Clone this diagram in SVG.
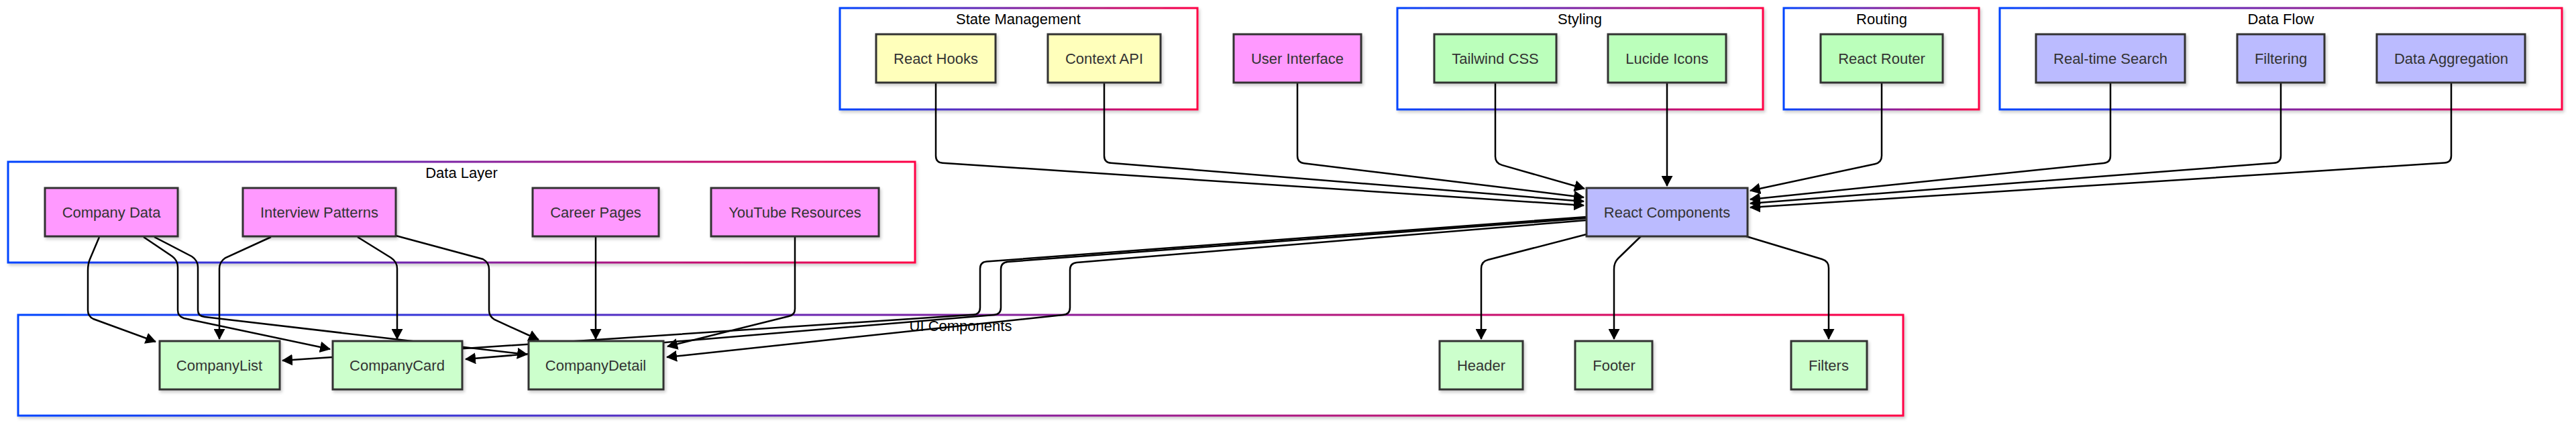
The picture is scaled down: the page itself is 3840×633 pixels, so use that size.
<svg xmlns="http://www.w3.org/2000/svg" width="3840" height="633" viewBox="0 0 3840 633">
<defs>
<linearGradient id="cg" x1="0" y1="0" x2="1" y2="0"><stop offset="0" stop-color="#0044ff"/><stop offset="1" stop-color="#ff0044"/></linearGradient>
<filter id="sh" x="-5%" y="-10%" width="115%" height="140%"><feDropShadow dx="2" dy="3" stdDeviation="2" flood-color="#000" flood-opacity="0.2"/></filter>
<marker id="arrow" viewBox="0 0 16 17" refX="15" refY="8.5" markerWidth="16" markerHeight="17" markerUnits="userSpaceOnUse" orient="auto"><path d="M0,0 L16,8.5 L0,17 z" fill="#000"/></marker>
</defs>
<style>
.cluster rect{fill:#fff;stroke:url(#cg);stroke-width:3;filter:url(#sh)}
.cluster text{font-family:"Liberation Sans",Arial,sans-serif;font-size:22px;fill:#000;text-anchor:middle}
.node rect{stroke:#333;stroke-width:3;filter:url(#sh)}
.node text{font-family:"Liberation Sans",Arial,sans-serif;font-size:22px;fill:#333;text-anchor:middle}
.yellow rect{fill:#ffffbb}
.pink rect{fill:#ff99ff}
.green rect{fill:#bbffbb}
.lgreen rect{fill:#ccffcc}
.blue rect{fill:#bbbbff}
#connectors path{fill:none;stroke:#000;stroke-width:2.5;marker-end:url(#arrow)}
</style>
<rect width="3840" height="633" fill="#fff"/>

<g id="clusters">
<g id="cluster-state" class="cluster"><rect x="1252" y="12" width="533" height="151"/><text x="1518" y="36">State Management</text></g>
<g id="cluster-styling" class="cluster"><rect x="2083" y="12" width="545" height="151"/><text x="2355" y="36">Styling</text></g>
<g id="cluster-routing" class="cluster"><rect x="2659" y="12" width="291" height="151"/><text x="2805" y="36">Routing</text></g>
<g id="cluster-dataflow" class="cluster"><rect x="2981" y="12" width="838" height="151"/><text x="3400" y="36">Data Flow</text></g>
<g id="cluster-datalayer" class="cluster"><rect x="12" y="241" width="1352" height="150"/><text x="688" y="265">Data Layer</text></g>
<g id="cluster-ui" class="cluster"><rect x="27" y="469" width="2810" height="150"/><text x="1432" y="493">UI Components</text></g>
</g>

<g id="connectors">
<path d="M1395,123 L1395,232 Q1395,242 1405,242.7 L2361,306"/>
<path d="M1646,123 L1646,232 Q1646,242 1656,242.8 L2361,300"/>
<path d="M1934,123 L1934,232 Q1934,242 1944,243.2 L2361,294"/>
<path d="M2229,123 L2229,233 Q2229,243 2239,245.9 L2362,281"/>
<path d="M2485,123 L2485,277"/>
<path d="M2805,123 L2805,232 Q2805,242 2795,244.2 L2609,284"/>
<path d="M3146,123 L3146,232 Q3146,242 3136,243 L2609,297"/>
<path d="M3400,123 L3400,232 Q3400,242 3390,242.8 L2609,303"/>
<path d="M3654,123 L3654,232 Q3654,242 3644,242.6 L2609,309"/>
<path d="M2365,349 L2218,387 Q2208,389.6 2208,400 L2208,505"/>
<path d="M2446,352 L2412,385 Q2406,391 2406,401 L2406,505"/>
<path d="M2603,352 L2716,386 Q2726,389 2726,399 L2726,505"/>
<path d="M2365,323 L1471,389.5 Q1461,390.3 1461,400 L1461,458 Q1461,468 1451,468.7 L421,537"/>
<path d="M2365,325 L1502,390 Q1492,391 1492,401 L1492,458 Q1492,468 1482,468.9 L694,535"/>
<path d="M2365,328 L1605,391 Q1595,392 1595,402 L1595,458 Q1595,468 1585,469 L994,532"/>
<path d="M148,353 L134,386 Q131,393 131,403 L131,462 Q131,471 139,475 L232,509"/>
<path d="M214,353 L257,382 Q265,388 265,398 L265,462 Q265,471 274,474 L492,520"/>
<path d="M230,353 L286,382 Q295,388 295,398 L295,462 Q295,471 305,472 L786,528"/>
<path d="M404,353 L336,384 Q327,390 327,400 L327,505"/>
<path d="M533,353 L583,384 Q592,390 592,400 L592,505"/>
<path d="M590,351 L720,386 Q729,391 729,401 L729,462 Q729,471 737,476 L803,506"/>
<path d="M888,352 L888,505"/>
<path d="M1185,352 L1185,460 Q1185,469 1176,471 L995,516"/>
</g>

<g id="nodes">
<g id="react-hooks" class="node yellow"><rect x="1306" y="51" width="178" height="72"/><text x="1395" y="95">React Hooks</text></g>
<g id="context-api" class="node yellow"><rect x="1562" y="51" width="168" height="72"/><text x="1646" y="95">Context API</text></g>
<g id="user-interface" class="node pink"><rect x="1839" y="51" width="190" height="72"/><text x="1934" y="95">User Interface</text></g>
<g id="tailwind-css" class="node green"><rect x="2138" y="51" width="182" height="72"/><text x="2229" y="95">Tailwind CSS</text></g>
<g id="lucide-icons" class="node green"><rect x="2397" y="51" width="176" height="72"/><text x="2485" y="95">Lucide Icons</text></g>
<g id="react-router" class="node green"><rect x="2714" y="51" width="182" height="72"/><text x="2805" y="95">React Router</text></g>
<g id="realtime-search" class="node blue"><rect x="3035" y="51" width="222" height="72"/><text x="3146" y="95">Real-time Search</text></g>
<g id="filtering" class="node blue"><rect x="3335" y="51" width="130" height="72"/><text x="3400" y="95">Filtering</text></g>
<g id="data-aggregation" class="node blue"><rect x="3543" y="51" width="221" height="72"/><text x="3654" y="95">Data Aggregation</text></g>
<g id="react-components" class="node blue"><rect x="2365" y="280" width="240" height="72"/><text x="2485" y="324">React Components</text></g>
<g id="company-data" class="node pink"><rect x="67" y="280" width="198" height="72"/><text x="166" y="324">Company Data</text></g>
<g id="interview-patterns" class="node pink"><rect x="362" y="280" width="228" height="72"/><text x="476" y="324">Interview Patterns</text></g>
<g id="career-pages" class="node pink"><rect x="794" y="280" width="188" height="72"/><text x="888" y="324">Career Pages</text></g>
<g id="youtube-resources" class="node pink"><rect x="1060" y="280" width="250" height="72"/><text x="1185" y="324">YouTube Resources</text></g>
<g id="company-list" class="node lgreen"><rect x="238" y="508" width="179" height="72"/><text x="327" y="552">CompanyList</text></g>
<g id="company-card" class="node lgreen"><rect x="496" y="508" width="193" height="72"/><text x="592" y="552">CompanyCard</text></g>
<g id="company-detail" class="node lgreen"><rect x="788" y="508" width="201" height="72"/><text x="888" y="552">CompanyDetail</text></g>
<g id="header" class="node lgreen"><rect x="2146" y="508" width="124" height="72"/><text x="2208" y="552">Header</text></g>
<g id="footer" class="node lgreen"><rect x="2348" y="508" width="115" height="72"/><text x="2406" y="552">Footer</text></g>
<g id="filters" class="node lgreen"><rect x="2670" y="508" width="113" height="72"/><text x="2726" y="552">Filters</text></g>
</g>
</svg>
